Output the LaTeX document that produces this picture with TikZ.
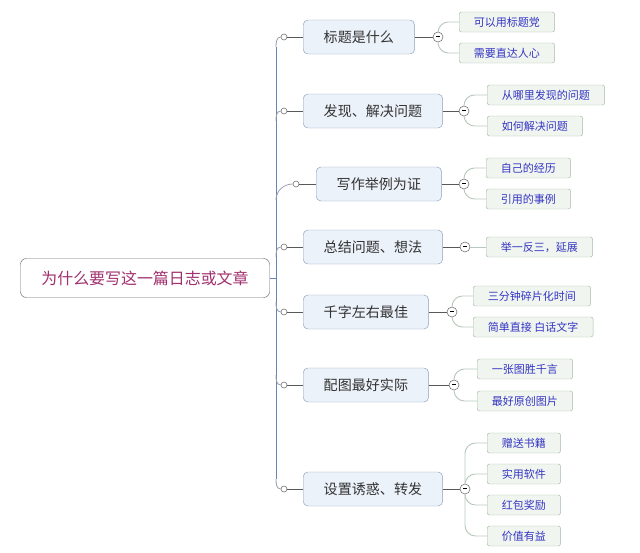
\documentclass[tikz,border=0pt]{standalone}
\usepackage{fontspec}
\newfontfamily\cjk{Noto Sans CJK SC}
\definecolor{roottext}{RGB}{160,48,110}
\definecolor{rootline}{RGB}{110,110,110}
\definecolor{branchfill}{RGB}{236,242,249}
\definecolor{branchline}{RGB}{140,160,188}
\definecolor{leaffill}{RGB}{240,246,239}
\definecolor{leafline}{RGB}{168,186,170}
\definecolor{leaftext}{RGB}{52,52,196}
\definecolor{trunkcol}{RGB}{104,132,184}
\definecolor{curvecol}{RGB}{150,160,175}
\definecolor{leafcurve}{RGB}{185,200,188}

\begin{document}
\begin{tikzpicture}[
    x=0.03cm, y=-0.03cm,
    mmroot/.style={draw=rootline, fill=white, rounded corners=5pt, inner xsep=0pt, minimum width=7.47cm, minimum height=1.17cm, text=roottext, font=\cjk\fontsize{13.6}{16}\selectfont},
    mmbranch/.style={draw=branchline, fill=branchfill, rounded corners=4pt, anchor=west, inner xsep=17.5pt, minimum height=1.02cm, text=black!80, font=\cjk\fontsize{12}{14}\selectfont},
    mmleaf/.style={draw=leafline, fill=leaffill, rounded corners=2pt, anchor=west, inner xsep=12.5pt, minimum height=0.6cm, text=leaftext, font=\cjk\fontsize{9.4}{11}\selectfont},
    mmdot/.style={circle, draw=black!55, fill=white, inner sep=0pt, minimum size=0.18cm, line width=0.5pt},
    mmfold/.style={circle, draw=black!55, fill=white, inner sep=0pt, minimum size=0.3cm, line width=0.5pt, font=\tiny},
    mmtrunk/.style={draw=trunkcol, line width=0.8pt},
    mmcurve/.style={draw=curvecol, line width=0.7pt},
    mmlink/.style={draw=black!65, line width=0.6pt},
    mmleafline/.style={draw=leafcurve, line width=0.8pt, rounded corners=9pt}
]
\useasboundingbox (0,0) rectangle (640,552);

% root
\node[mmroot] (root) at (145,278) {为什么要写这一篇日志或文章};
\coordinate (hub) at (276,278);
\coordinate (top) at (276,47);
\coordinate (bottom) at (276,479);

% branches
\node[mmbranch] (title) at (303,37) {标题是什么};
\node[mmbranch] (find) at (303,111) {发现、解决问题};
\node[mmbranch] (example) at (316,184) {写作举例为证};
\node[mmbranch] (sum) at (303,247) {总结问题、想法};
\node[mmbranch] (length) at (303,312) {千字左右最佳};
\node[mmbranch] (pic) at (303,385) {配图最好实际};
\node[mmbranch] (share) at (303,489) {设置诱惑、转发};

% dots on trunk
\node[mmdot] (dtitle) at (284,37) {};
\node[mmdot] (dfind) at (284,111) {};
\node[mmdot] (dexample) at (296,184) {};
\node[mmdot] (dsum) at (284,247) {};
\node[mmdot] (dlength) at (284,312) {};
\node[mmdot] (dpic) at (284,385) {};
\node[mmdot] (dshare) at (284,489) {};

% fold buttons
\node[mmfold] (ftitle) at (438,37) {\rule[0.35ex]{3.2pt}{0.5pt}};
\node[mmfold] (ffind) at (464,111) {\rule[0.35ex]{3.2pt}{0.5pt}};
\node[mmfold] (fexample) at (464,184) {\rule[0.35ex]{3.2pt}{0.5pt}};
\node[mmfold] (fsum) at (465,247) {\rule[0.35ex]{3.2pt}{0.5pt}};
\node[mmfold] (flength) at (452,312) {\rule[0.35ex]{3.2pt}{0.5pt}};
\node[mmfold] (fpic) at (454,385) {\rule[0.35ex]{3.2pt}{0.5pt}};
\node[mmfold] (fshare) at (465,489) {\rule[0.35ex]{3.2pt}{0.5pt}};

% leaves
\node[mmleaf] (t1) at (459,22) {可以用标题党};
\node[mmleaf] (t2) at (459,53) {需要直达人心};
\node[mmleaf] (f1) at (487,95) {从哪里发现的问题};
\node[mmleaf] (f2) at (487,126) {如何解决问题};
\node[mmleaf] (e1) at (486,168) {自己的经历};
\node[mmleaf] (e2) at (486,199) {引用的事例};
\node[mmleaf] (s1) at (486,247) {举一反三，延展};
\node[mmleaf] (l1) at (473,296) {三分钟碎片化时间};
\node[mmleaf] (l2) at (473,327) {简单直接 白话文字};
\node[mmleaf] (p1) at (477,369) {一张图胜千言};
\node[mmleaf] (p2) at (477,401) {最好原创图片};
\node[mmleaf] (h1) at (487,443) {赠送书籍};
\node[mmleaf] (h2) at (487,474) {实用软件};
\node[mmleaf] (h3) at (487,505) {红包奖励};
\node[mmleaf] (h4) at (487,536) {价值有益};

% trunk
\draw[mmtrunk] (root.east) -- (hub);
\draw[mmtrunk] (top) -- (bottom);
\draw[mmcurve] (top) to[out=90, in=180] (dtitle.west);
\draw[mmcurve] (276,121) to[out=90, in=180] (dfind.west);
\draw[mmcurve] (276,200) to[out=90, in=180] (dexample.west);
\draw[mmcurve] (276,257) to[out=90, in=180] (dsum.west);
\draw[mmcurve] (276,302) to[out=-90, in=180] (dlength.west);
\draw[mmcurve] (276,375) to[out=-90, in=180] (dpic.west);
\draw[mmcurve] (bottom) to[out=-90, in=180] (dshare.west);

% dots to branches to folds
\foreach \b in {title,find,example,sum,length,pic,share}{
  \draw[mmlink] (d\b) -- (\b);
  \draw[mmlink] (\b) -- (f\b);
}

% fold to leaves
\draw[mmleafline] (ftitle.north) |- (t1.west);
\draw[mmleafline] (ftitle.south) |- (t2.west);
\draw[mmleafline] (ffind.north) |- (f1.west);
\draw[mmleafline] (ffind.south) |- (f2.west);
\draw[mmleafline] (fexample.north) |- (e1.west);
\draw[mmleafline] (fexample.south) |- (e2.west);
\draw[mmleafline] (fsum) -- (s1);
\draw[mmleafline] (flength.north) |- (l1.west);
\draw[mmleafline] (flength.south) |- (l2.west);
\draw[mmleafline] (fpic.north) |- (p1.west);
\draw[mmleafline] (fpic.south) |- (p2.west);
\draw[mmleafline] (fshare.north) |- (h1.west);
\draw[mmleafline] (fshare.north) |- (h2.west);
\draw[mmleafline] (fshare.south) |- (h3.west);
\draw[mmleafline] (fshare.south) |- (h4.west);
\end{tikzpicture}
\end{document}
